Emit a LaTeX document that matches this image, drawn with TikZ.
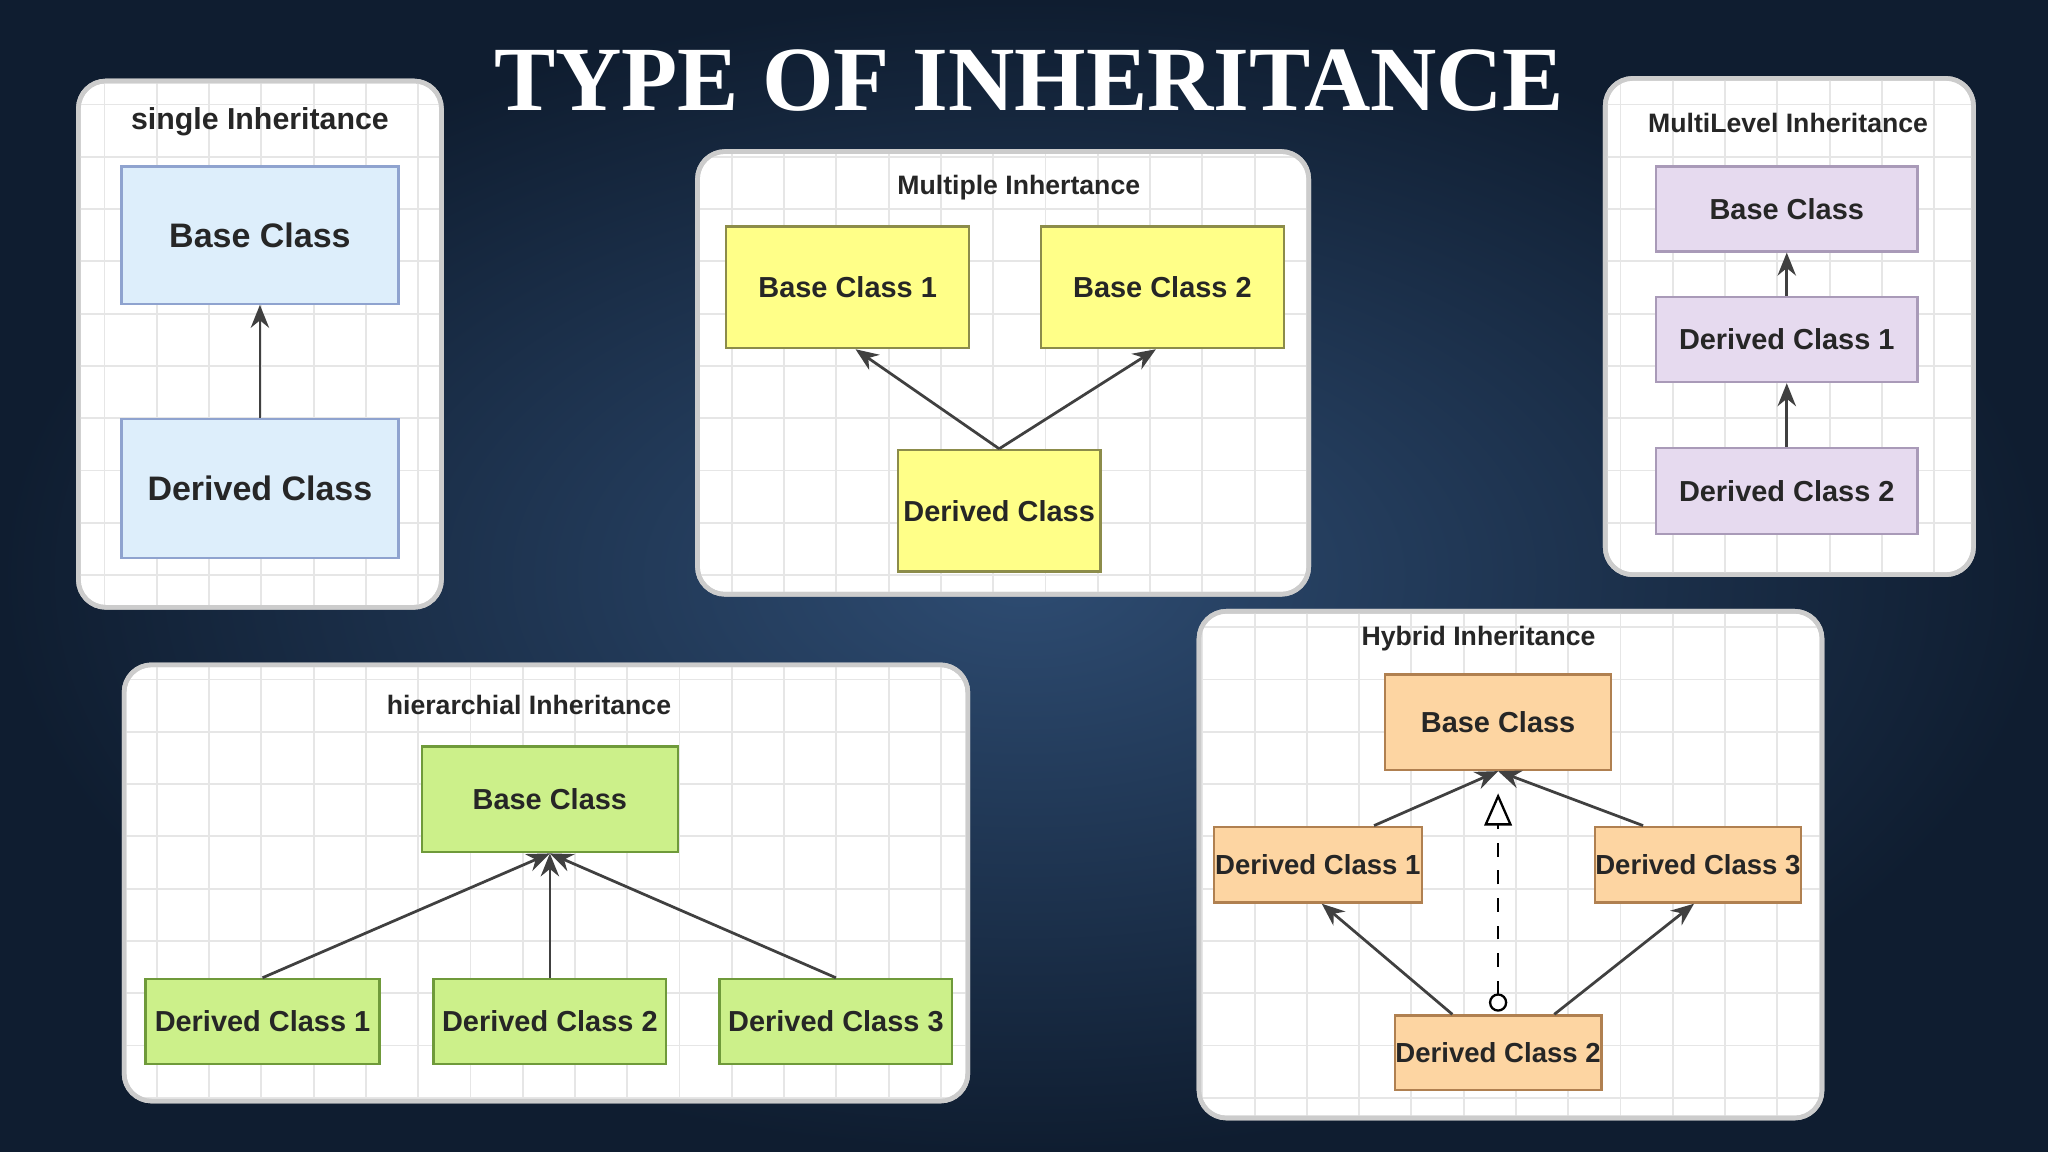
\documentclass[tikz,border=0pt]{standalone}
\usepackage{fontspec}
\setmainfont{Liberation Sans}
\newfontfamily\titlefont{Liberation Serif}
\usetikzlibrary{arrows.meta}
\definecolor{bgc}{HTML}{2E4C72}
\definecolor{bge}{HTML}{0F1D30}
\definecolor{gridc}{HTML}{E6E6E6}
\definecolor{bluf}{HTML}{DDEEFB}
\definecolor{blud}{HTML}{8FA3CF}
\definecolor{yelf}{HTML}{FFFF88}
\definecolor{yeld}{HTML}{8C8C4A}
\definecolor{vf}{HTML}{E6DAEF}
\definecolor{vd}{HTML}{A99AB8}
\definecolor{gf}{HTML}{CCF08A}
\definecolor{gd}{HTML}{6F9A3A}
\definecolor{orf}{HTML}{FDD5A2}
\definecolor{ord}{HTML}{B08050}
\tikzset{
 panel/.style={fill=white,draw=gray!40,rounded corners=6pt,line width=1pt},
 box/.style={draw=#1,line width=0.5pt,inner sep=0pt,font=\fontsize{6.3}{7}\selectfont\bfseries,text=black!85},
 ptitle/.style={font=\fontsize{5.8}{7}\selectfont\bfseries,text=black!85},
 inh/.style={-{Stealth[length=5pt,width=4pt]},draw=black!75,line width=0.6pt},
}
\newcommand{\mkpanel}[4]{%
 \draw[panel] (#1,#2) rectangle (#3,#4);
 \begin{scope}
 \clip[rounded corners=6pt] (#1,#2) rectangle (#3,#4);
 \draw[gridc,line width=0.4pt,step=0.4cm] (#1,#2) grid (#3,#4);
 \end{scope}
 \draw[draw=gray!40,rounded corners=6pt,line width=1pt] (#1,#2) rectangle (#3,#4);
}
\begin{document}
\begin{tikzpicture}[x=0.01cm,y=-0.01cm]
\shade[inner color=bgc,outer color=bge] (0,0) rectangle (1568,882);
\useasboundingbox (0,0) rectangle (1568,882);
\node[font=\titlefont\fontsize{20}{22}\selectfont\bfseries,text=white] (t) at (788,62) {TYPE OF INHERITANCE};
% single
\mkpanel{60}{62}{338}{465}
\node[ptitle,font=\fontsize{6.6}{7}\selectfont\bfseries] (st) at (199,93) {single Inheritance};
\node[box=blud,fill=bluf,minimum width=2.12cm,minimum height=1.05cm,font=\fontsize{7.4}{8}\selectfont\bfseries] (sb) at (199,180) {Base Class};
\node[box=blud,fill=bluf,minimum width=2.12cm,minimum height=1.06cm,font=\fontsize{7.4}{8}\selectfont\bfseries] (sd) at (199,374) {Derived Class};
\draw[inh] (sd) -- (sb);
% multiple
\mkpanel{534}{116}{1002}{455}
\node[ptitle] (mt) at (780,144) {Multiple Inhertance};
\node[box=yeld,fill=yelf,minimum width=1.86cm,minimum height=0.93cm] (m1) at (649,220) {Base Class 1};
\node[box=yeld,fill=yelf,minimum width=1.86cm,minimum height=0.93cm] (m2) at (890,220) {Base Class 2};
\node[box=yeld,fill=yelf,minimum width=1.55cm,minimum height=0.93cm] (md) at (765,391) {Derived Class};
\draw[inh] (md.north) -- ([xshift=0.06cm]m1.south);
\draw[inh] (md.north) -- ([xshift=-0.05cm]m2.south);
% multilevel
\mkpanel{1229}{60}{1511}{440}
\node[ptitle] (lt) at (1369,94) {MultiLevel Inheritance};
\node[box=vd,fill=vf,minimum width=2cm,minimum height=0.65cm] (l0) at (1368,160) {Base Class};
\node[box=vd,fill=vf,minimum width=2cm,minimum height=0.65cm] (l1) at (1368,260) {Derived Class 1};
\node[box=vd,fill=vf,minimum width=2cm,minimum height=0.66cm] (l2) at (1368,376) {Derived Class 2};
\draw[inh] (l1) -- (l0);
\draw[inh] (l2) -- (l1);
% hierarchial
\mkpanel{95}{509}{741}{843}
\node[ptitle] (ht) at (405,540) {hierarchial Inheritance};
\node[box=gd,fill=gf,minimum width=1.96cm,minimum height=0.81cm] (hb) at (421,612) {Base Class};
\node[box=gd,fill=gf,minimum width=1.79cm,minimum height=0.65cm] (h1) at (201,782) {Derived Class 1};
\node[box=gd,fill=gf,minimum width=1.78cm,minimum height=0.65cm] (h2) at (421,782) {Derived Class 2};
\node[box=gd,fill=gf,minimum width=1.78cm,minimum height=0.65cm] (h3) at (640,782) {Derived Class 3};
\draw[inh] (h1.north) -- (hb.south);
\draw[inh] (h2.north) -- (hb.south);
\draw[inh] (h3.north) -- (hb.south);
% hybrid
\mkpanel{918}{468}{1395}{856}
\node[ptitle] (yt) at (1132,489) {Hybrid Inheritance};
\node[box=ord,fill=orf,minimum width=1.73cm,minimum height=0.73cm] (yb) at (1147,553) {Base Class};
\node[box=ord,fill=orf,minimum width=1.59cm,minimum height=0.58cm,font=\fontsize{6}{7}\selectfont\bfseries] (y1) at (1009,662) {Derived Class 1};
\node[box=ord,fill=orf,minimum width=1.58cm,minimum height=0.58cm,font=\fontsize{6}{7}\selectfont\bfseries] (y3) at (1300,662) {Derived Class 3};
\node[box=ord,fill=orf,minimum width=1.58cm,minimum height=0.57cm,font=\fontsize{6}{7}\selectfont\bfseries] (y2) at (1147,806) {Derived Class 2};
\draw[inh] ([xshift=0.43cm]y1.north) -- (yb.south);
\draw[inh] ([xshift=-0.42cm]y3.north) -- (yb.south);
\draw[inh] ([xshift=-0.35cm]y2.north) -- ([xshift=0.03cm]y1.south);
\draw[inh] ([xshift=0.43cm]y2.north) -- ([xshift=-0.03cm]y3.south);
\coordinate (ya) at ([yshift=-0.17cm]yb.south);
\draw[dashed,line width=0.5pt,{Circle[open,length=4pt]}-{Triangle[open,length=7pt,width=6pt]}] ([yshift=0.02cm]y2.north) -- (ya);
\end{tikzpicture}
\end{document}
